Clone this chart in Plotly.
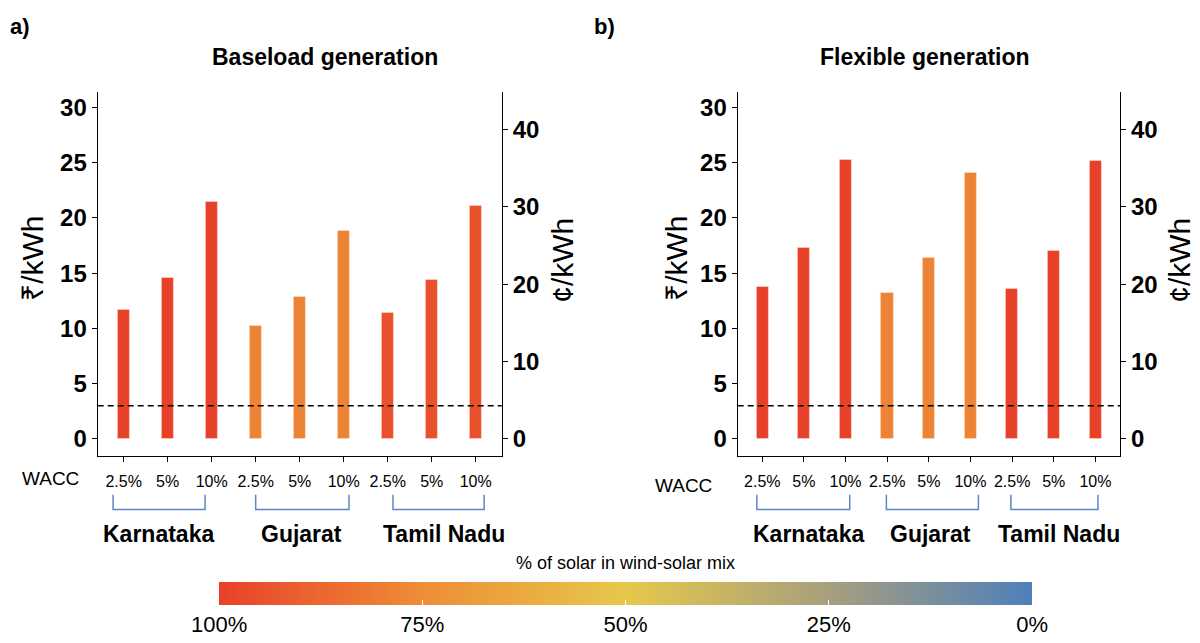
import plotly.graph_objects as go

# ---------------- data ----------------
wacc_labels = ["2.5%", "5%", "10%", "2.5%", "5%", "10%", "2.5%", "5%", "10%"]
states = ["Karnataka", "Gujarat", "Tamil Nadu"]
baseload_inr = [11.7, 14.55, 21.48, 10.26, 12.84, 18.84, 11.4, 14.37, 21.06]
flexible_inr = [13.77, 17.27, 25.25, 13.2, 16.43, 24.11, 13.62, 17.06, 25.17]
baseload_solar_share = [100, 100, 100, 78, 78, 78, 95, 95, 95]
flexible_solar_share = [100, 100, 100, 78, 78, 78, 100, 100, 100]
benchmark_inr = 3.0
inr_per_usd = 70.0
share_ticks = [100, 75, 50, 25, 0]
panel_titles = ["Baseload generation", "Flexible generation"]
panel_tags = ["a)", "b)"]

FONT = "Liberation Sans, Arial, Helvetica, sans-serif"
pos = list(range(1, len(wacc_labels) + 1))

# colour scale drawn over negative solar share so that 100% sits on the left
colorscale = [[0.0, "#E8412A"], [0.25, "#EE8D36"], [0.5, "#E6C84B"],
              [0.75, "#A79F7E"], [1.0, "#4F7FBA"]]

fig = go.Figure()

panels = [
    dict(vals=baseload_inr, share=baseload_solar_share, x="x", y="y", y2="y2"),
    dict(vals=flexible_inr, share=flexible_solar_share, x="x2", y="y3", y2="y4"),
]
for p in panels:
    fig.add_trace(go.Bar(
        x=pos, y=p["vals"], xaxis=p["x"], yaxis=p["y"], width=0.29,
        marker=dict(color=[-s for s in p["share"]], coloraxis="coloraxis",
                    line=dict(color="rgba(255,230,220,0.8)", width=0.6)),
        showlegend=False, hoverinfo="y"))
    # secondary (US cent) axis carrier
    fig.add_trace(go.Scatter(
        x=pos, y=[v * 100 / inr_per_usd for v in p["vals"]], xaxis=p["x"], yaxis=p["y2"],
        mode="markers", marker=dict(opacity=0), showlegend=False, hoverinfo="skip"))

yr = [-1.5, 31.4]
yr_c = [v * 100 / inr_per_usd for v in yr]
ydom = [0.2882, 0.8566]
xr = [0.41, 9.59]

axis_common = dict(showline=True, linecolor="black", linewidth=1.3, ticks="outside",
                   ticklen=5, tickcolor="black", tickwidth=1.3, showgrid=False,
                   zeroline=False)
ytick_font = dict(family=FONT, size=24, color="black", weight="bold")

fig.update_layout(
    width=1200, height=643,
    margin=dict(l=0, r=0, t=0, b=0),
    paper_bgcolor="white", plot_bgcolor="white",
    font=dict(family=FONT, color="black"),
    bargap=0,
    xaxis=dict(domain=[97.7 / 1200, 501.7 / 1200], range=xr, anchor="y",
               tickvals=pos, ticktext=wacc_labels, tickfont=dict(size=16, family=FONT),
               ticklabelstandoff=6, **axis_common),
    yaxis=dict(domain=ydom, range=yr, anchor="x", dtick=5, tick0=0,
               tickfont=ytick_font, **axis_common),
    yaxis2=dict(overlaying="y", side="right", anchor="x", range=yr_c, dtick=10, tick0=0,
                tickfont=ytick_font, **axis_common),
    xaxis2=dict(domain=[737.7 / 1200, 1120 / 1200], range=xr, anchor="y3",
                tickvals=pos, ticktext=wacc_labels, tickfont=dict(size=16, family=FONT),
                ticklabelstandoff=6, **axis_common),
    yaxis3=dict(domain=ydom, range=yr, anchor="x2", dtick=5, tick0=0,
                tickfont=ytick_font, **axis_common),
    yaxis4=dict(overlaying="y3", side="right", anchor="x2", range=yr_c, dtick=10, tick0=0,
                tickfont=ytick_font, **axis_common),
    coloraxis=dict(
        cmin=-100, cmax=0, colorscale=colorscale,
        colorbar=dict(
            orientation="h", x=0.5213, xanchor="center", len=813 / 1200, lenmode="fraction",
            y=(643 - 565) / 643, yanchor="top", thickness=23, ypad=0, xpad=0,
            outlinewidth=0,
            title=dict(text="% of solar in wind-solar mix", side="top",
                       font=dict(size=18, family=FONT)),
            tickvals=[-t for t in share_ticks], ticktext=[f"{t}%" for t in share_ticks],
            ticks="inside", ticklen=5, tickcolor="white", tickwidth=1.2,
            tickfont=dict(size=22, family=FONT),
        ),
    ),
)

# Dashed benchmark line
for xa, ya in [("x", "y"), ("x2", "y3")]:
    fig.add_shape(type="line", xref=f"{xa} domain", yref=ya, x0=0, x1=1,
                  y0=benchmark_inr, y1=benchmark_inr,
                  line=dict(color="black", width=1.5, dash="6px,4px"))

# Brackets for states
bracket_offsets = [
    [(-0.24, -0.15), (0.0, 0.12), (0.12, 0.19)],
    [(-0.13, 0.1), (-0.02, 0.19), (-0.03, 0.06)],
]
y_top = (643 - 497) / 643
y_bot = (643 - 512) / 643
for pi, xa in enumerate(["x", "x2"]):
    for si in range(len(states)):
        first = pos[si * 3]
        last = pos[si * 3 + 2]
        a = first + bracket_offsets[pi][si][0]
        b = last + bracket_offsets[pi][si][1]
        fig.add_shape(type="path", xref=xa, yref="paper",
                      path=f"M {a},{y_top} L {a},{y_bot} L {b},{y_bot} L {b},{y_top}",
                      line=dict(color="#5F82CC", width=1.5))

# Annotations
ann = []
label_nudge = [[-0.2, 0.04, 0.27], [0.1, 0.03, 0.13]]
for pi, (xa, tag, title) in enumerate(zip(["x", "x2"], panel_tags, panel_titles)):
    ann.append(dict(text=f"<b>{tag}</b>", x=[8, 592][pi] / 1200, y=(643 - 27) / 643,
                    xref="paper", yref="paper", xanchor="left", yanchor="middle",
                    showarrow=False, font=dict(size=22, family=FONT)))
    ann.append(dict(text=f"<b>{title}</b>", x=[325, 925][pi] / 1200, y=(643 - 57) / 643,
                    xref="paper", yref="paper", xanchor="center", yanchor="middle",
                    showarrow=False, font=dict(size=23, family=FONT)))
    ann.append(dict(text="₹/kWh", x=[33, 677][pi] / 1200, y=(643 - 260) / 643,
                    xref="paper", yref="paper", xanchor="center", yanchor="middle",
                    textangle=-90, showarrow=False, font=dict(size=30, family=FONT)))
    ann.append(dict(text="¢/kWh", x=[563, 1180][pi] / 1200, y=(643 - 262) / 643,
                    xref="paper", yref="paper", xanchor="center", yanchor="middle",
                    textangle=-90, showarrow=False, font=dict(size=30, family=FONT)))
    ann.append(dict(text="WACC", x=[50, 684][pi] / 1200, y=(643 - [481, 488][pi]) / 643,
                    xref="paper", yref="paper", xanchor="center", yanchor="middle",
                    showarrow=False, font=dict(size=19, family=FONT)))
    for si, st in enumerate(states):
        center = (pos[si * 3] + pos[si * 3 + 2]) / 2
        ann.append(dict(text=f"<b>{st}</b>", x=center + label_nudge[pi][si], xref=xa,
                        y=(643 - 537) / 643, yref="paper", xanchor="center",
                        yanchor="middle", showarrow=False,
                        font=dict(size=23, family=FONT)))
fig.update_layout(annotations=ann)

fig.write_html("out.html", config={"displayModeBar": False},
               post_script="document.body.style.margin='0';")
